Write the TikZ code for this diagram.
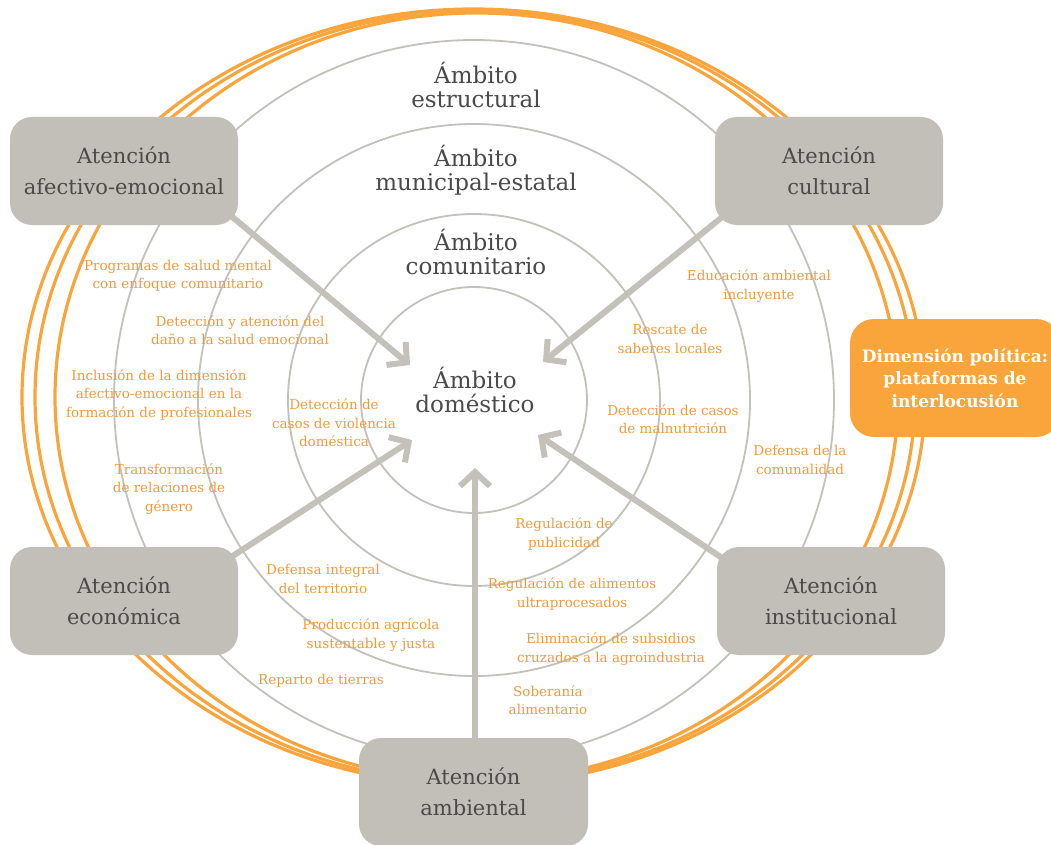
\documentclass[tikz,border=0pt]{standalone}
\usepackage{fontspec}
\setmainfont{DejaVu Serif}
\usetikzlibrary{arrows.meta}
\definecolor{ringor}{HTML}{F9A53B}
\definecolor{txtor}{HTML}{F29A3A}
\definecolor{boxgray}{HTML}{C1BFB8}
\definecolor{linegray}{HTML}{C3C1BA}
\definecolor{txtdark}{HTML}{4A4A4A}
\pgfdeclarelayer{bg}
\pgfdeclarelayer{mid}
\pgfsetlayers{bg,mid,main}
\begin{document}
\begin{tikzpicture}[x=1pt,y=-1pt,
  ring/.style={draw=ringor, line width=3.2pt},
  circ/.style={draw=linegray, line width=1.8pt},
  att/.style={fill=boxgray, rounded corners=22pt, minimum width=228pt, minimum height=108pt, text=txtdark, align=center, font=\fontsize{21}{31}\selectfont, inner sep=0pt},
  pol/.style={fill=ringor, rounded corners=24pt, minimum width=210pt, minimum height=118pt, text=white, align=center, font=\fontsize{17}{22.5}\selectfont\bfseries, inner sep=0pt},
  amb/.style={text=txtdark, align=center, font=\fontsize{23}{24}\selectfont, inner sep=0pt},
  lab/.style={text=txtor, align=center, font=\fontsize{13.5}{18.5}\selectfont, inner sep=0pt},
  flow/.style={draw=linegray, line width=6pt, -{Straight Barb[length=14pt,width=30pt]}},
]
\begin{pgfonlayer}{bg}
\fill[white] (0,0) rectangle (1051,845);
\end{pgfonlayer}
\useasboundingbox (0,0) rectangle (1051,845);
\begin{pgfonlayer}{bg}
\draw[ring] (473.5,397) ellipse [x radius=451.5, y radius=388];
\draw[ring] (475,397) ellipse [x radius=440, y radius=386];
\draw[ring] (476.5,397) ellipse [x radius=421.5, y radius=384];
\draw[circ] (474,400) circle [radius=113];
\draw[circ] (474,400) circle [radius=186];
\draw[circ] (474,400) circle [radius=276];
\draw[circ] (474,400) circle [radius=360];
\end{pgfonlayer}

% boxes
\node[att] (afectivo) at (124,171) {Atención\\afectivo-emocional};
\node[att] (cultural) at (829,171) {Atención\\cultural};
\node[att] (economica) at (124,601) {Atención\\económica};
\node[att] (institucional) at (831,601) {Atención\\institucional};
\node[att, minimum width=229pt] (ambiental) at (473.5,792) {Atención\\ambiental};
\node[pol] (politica) at (955,378) {Dimensión política:\\plataformas de\\interlocusión};

% ambitos
\node[amb] (estr) at (476,85) {Ámbito\\estructural};
\node[amb] (muni) at (476,170) {Ámbito\\municipal-estatal};
\node[amb] (comu) at (476,252) {Ámbito\\comunitario};
\node[amb] (dome) at (475,390) {Ámbito\\doméstico};

% labels
\node[lab] (l1) at (178,276) {Programas de salud mental\\con enfoque comunitario};
\node[lab] (l2) at (240,330) {Detección y atención del\\daño a la salud emocional};
\node[lab] (l3) at (159,395) {Inclusión de la dimensión\\afectivo-emocional en la\\formación de profesionales};
\node[lab] (l4) at (169,489) {Transformación\\de relaciones de\\género};
\node[lab] (l5) at (334,423) {Detección de\\casos de violencia\\doméstica};
\node[lab] (l6) at (759,286) {Educación ambiental\\incluyente};
\node[lab] (l7) at (670,339) {Rescate de\\saberes locales};
\node[lab] (l8) at (673,419) {Detección de casos\\de malnutrición};
\node[lab] (l9) at (800,460) {Defensa de la\\comunalidad};
\node[lab] (l10) at (564,534) {Regulación de\\publicidad};
\node[lab] (l11) at (572,594) {Regulación de alimentos\\ultraprocesados};
\node[lab] (l12) at (611,649) {Eliminación de subsidios\\cruzados a la agroindustria};
\node[lab] (l13) at (548,700) {Soberanía\\alimentario};
\node[lab] (l14) at (323,579) {Defensa integral\\del territorio};
\node[lab] (l15) at (371,635) {Producción agrícola\\sustentable y justa};
\node[lab] (l16) at (321,681) {Reparto de tierras};

% arrows
\coordinate (t1) at (410,365);
\coordinate (t2) at (543,362);
\coordinate (t3) at (412,440);
\coordinate (t4) at (538,435);
\coordinate (t5) at (475,468);
\begin{pgfonlayer}{mid}
\draw[flow] ([shift={(-20,-20)}]afectivo.south east) -- (t1);
\draw[flow] ([shift={(22,-20)}]cultural.south west) -- (t2);
\draw[flow] ([shift={(-16,16)}]economica.north east) -- (t3);
\draw[flow] ([shift={(11,15)}]institucional.north west) -- (t4);
\draw[flow] ([shift={(1.5,10)}]ambiental.north) -- (t5);
\end{pgfonlayer}
\end{tikzpicture}
\end{document}
